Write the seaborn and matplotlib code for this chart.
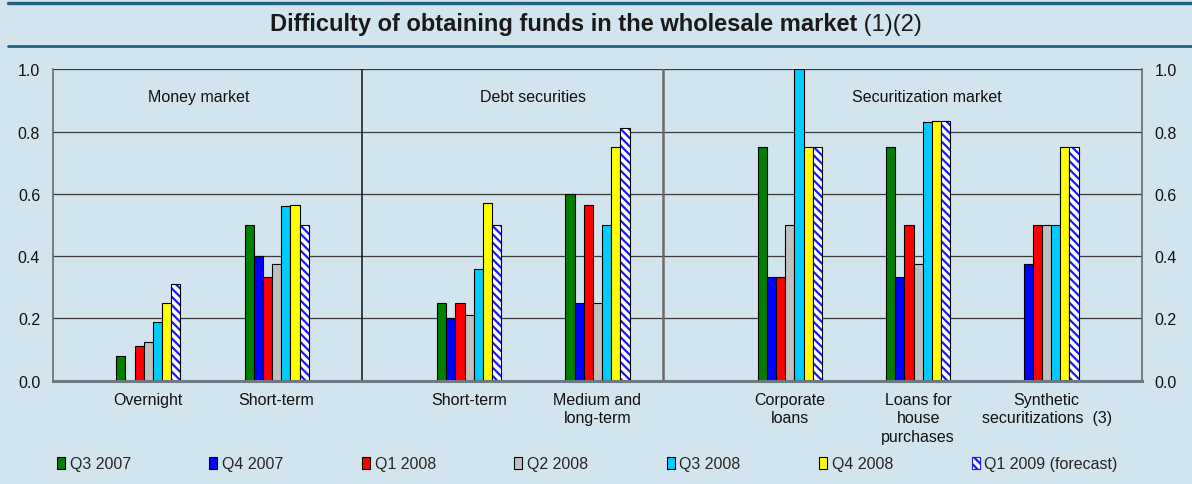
import matplotlib
matplotlib.use("Agg")
import matplotlib.pyplot as plt
from matplotlib.patches import Patch
from matplotlib.lines import Line2D
import numpy as np
import pandas as pd
import seaborn as sns

# ---- data -------------------------------------------------------------
sections = ["Money market", "Debt securities", "Securitization market"]
section_items = [
    ["Overnight", "Short-term"],
    ["Short-term", "Medium and\nlong-term"],
    ["Corporate\nloans", "Loans for\nhouse\npurchases", "Synthetic\nsecuritizations  (3)"],
]
quarters = ["Q3 2007", "Q4 2007", "Q1 2008", "Q2 2008",
            "Q3 2008", "Q4 2008", "Q1 2009 (forecast)"]

# one list per instrument, one value per quarter (None = not reported)
overnight = [0.08, None, 0.11, 0.125, 0.19, 0.25, 0.31]
money_short = [0.50, 0.40, 0.333, 0.375, 0.56, 0.563, 0.50]
debt_short = [0.25, 0.20, 0.25, 0.21, 0.36, 0.57, 0.50]
debt_medium = [0.60, 0.25, 0.563, 0.25, 0.50, 0.75, 0.8125]
corporate = [0.75, 0.333, 0.333, 0.50, 1.00, 0.75, 0.75]
house_loans = [0.75, 0.333, 0.50, 0.375, 0.83, 0.833, 0.833]
synthetic = [None, 0.375, 0.50, 0.50, 0.50, 0.75, 0.75]

series = [overnight, money_short, debt_short, debt_medium,
          corporate, house_loans, synthetic]

yticks = [0.0, 0.2, 0.4, 0.6, 0.8, 1.0]

# ---- styling ------------------------------------------------------------
BG = "#d2e4ee"
palette = ["#008000", "#0000ff", "#ff0000", "#c0c0c0",
           "#00ccff", "#ffff00", "#ffffff"]
HATCH_COLOR = "#1a1aff"

sns.set_theme(style="white")
plt.rcParams["font.family"] = ["Liberation Sans", "DejaVu Sans"]
plt.rcParams["hatch.linewidth"] = 1.6

# x positions: unit step inside a section, wider step between sections
positions = []
labels = []
x = 0.0
for s, items in enumerate(section_items):
    if s:
        x += 0.5
    for item in items:
        positions.append(x)
        labels.append(item)
        x += 1.0

rows = []
for p, vals in zip(positions, series):
    for q, v in zip(quarters, vals):
        if v is not None:
            rows.append({"pos": p, "quarter": q, "value": v})
df = pd.DataFrame(rows)

fig = plt.figure(figsize=(11.92, 4.85), dpi=100, facecolor=BG)
ax = fig.add_axes([0.0442, 0.213, 0.9141, 0.642])
ax.set_facecolor(BG)

sns.barplot(data=df, x="pos", y="value", hue="quarter", hue_order=quarters,
            palette=palette, saturation=1, native_scale=True, width=0.5,
            dodge=True, errorbar=None, edgecolor="black", linewidth=0.8,
            legend=False, zorder=3, ax=ax)

# forecast bars: white with blue diagonal stripes and a black outline
for patch in ax.containers[-1]:
    patch.set_facecolor("white")
    patch.set_edgecolor(HATCH_COLOR)
    patch.set_linewidth(0)
    patch.set_hatch("\\\\\\\\")
    ax.add_patch(plt.Rectangle(patch.get_xy(), patch.get_width(), patch.get_height(),
                               fill=False, edgecolor="black", linewidth=0.8, zorder=4))

ax.set_xlim(-0.745, 7.746)
ax.set_ylim(0, 1.0)
ax.set_xlabel("")
ax.set_ylabel("")

# grid
ax.set_yticks(yticks)
ax.set_yticklabels([f"{t:.1f}" for t in yticks])
for t in yticks[1:]:
    ax.axhline(t, color="#3a3a3a", lw=0.9, zorder=1)

ax.tick_params(axis="y", length=0, pad=9, labelsize=11.5, colors="#111111",
               labelleft=True, labelright=True, right=False)
ax.set_xticks(positions)
ax.set_xticklabels(labels, fontsize=11.5, color="#111111", linespacing=1.3,
                   va="top")
ax.tick_params(axis="x", length=0, pad=8)

ax.spines["top"].set_visible(False)
ax.spines["left"].set_color("#6a6a6a")
ax.spines["left"].set_linewidth(1.2)
ax.spines["right"].set_color("#6a6a6a")
ax.spines["right"].set_linewidth(1.2)
ax.spines["bottom"].set_color("#6d7a82")
ax.spines["bottom"].set_linewidth(2.2)
ax.spines["bottom"].set_zorder(5)

# section separators and section headings
section_bounds = [1.666, 4.01]
ax.axvline(section_bounds[0], color="#111111", lw=1.1, zorder=2)
ax.axvline(section_bounds[1], color="#6a6a6a", lw=1.8, zorder=2)
section_label_x = [0.39, 3.0, 6.07]
for name, sx in zip(sections, section_label_x):
    ax.text(sx, 0.913, name, ha="center", va="center", fontsize=11.5,
            color="#111111", zorder=5)

# title band
fig.add_artist(Line2D([0.007, 0.999], [1 - 4 / 485, 1 - 4 / 485],
                      color="#1f5f80", lw=2.4))
fig.add_artist(Line2D([0.007, 0.999], [1 - 47 / 485, 1 - 47 / 485],
                      color="#1f5f80", lw=2.0))
title_y = 1 - 25 / 485
t1 = fig.text(0, title_y, "Difficulty of obtaining funds in the wholesale market",
              fontsize=17, fontweight="bold", color="#1a1a1a", va="center")
t2 = fig.text(0, title_y, " (1)(2)", fontsize=17, color="#1a1a1a", va="center")
fig.canvas.draw()
r = fig.canvas.get_renderer()
w1 = t1.get_window_extent(r).width
w2 = t2.get_window_extent(r).width
W = fig.bbox.width
x0 = (W - (w1 + w2)) / 2 / W
t1.set_x(x0)
t2.set_x(x0 + w1 / W)

# legend
handles = []
for q, c in zip(quarters, palette):
    if q == quarters[-1]:
        handles.append(Patch(facecolor="white", edgecolor=HATCH_COLOR,
                             hatch="\\\\\\\\", linewidth=0.8))
    else:
        handles.append(Patch(facecolor=c, edgecolor="black", linewidth=0.8))
fig.legend(handles, quarters, loc="center left",
           bbox_to_anchor=(57 / 1192, 1 - 465 / 485), ncol=7, frameon=False,
           fontsize=11.5, handlelength=0.5, handleheight=0.8, handletextpad=0.3,
           columnspacing=4.91, borderpad=0, borderaxespad=0)

fig.savefig("out.png", dpi=100, facecolor=BG)
